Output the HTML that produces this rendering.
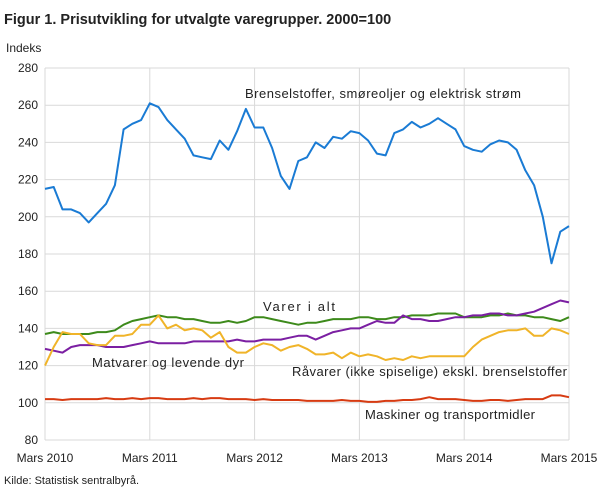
<!DOCTYPE html><html><head><meta charset="utf-8"><style>
body{margin:0;background:#fff;width:609px;height:489px;overflow:hidden;font-family:"Liberation Sans",sans-serif}
</style></head><body>
<svg id="s" width="609" height="489" xmlns="http://www.w3.org/2000/svg" font-family="Liberation Sans, sans-serif">
<text x="4" y="24" font-size="14.5" font-weight="bold" fill="#222">Figur 1. Prisutvikling for utvalgte varegrupper. 2000=100</text>
<text x="6" y="52" font-size="12" fill="#222">Indeks</text>
<text x="4" y="484" font-size="11" fill="#222">Kilde: Statistisk sentralbyrå.</text>
<g id="g"></g>
</svg>
<script>
const g=document.getElementById('g');
const x0=45,x1=569,yv=v=>68+(280-v)*372/200;
let h='';
for(let v=80;v<=280;v+=20){const y=yv(v);h+=`<line x1="${x0}" x2="${x1}" y1="${y}" y2="${y}" stroke="#d9d9d9"/><text x="${x0-7}" y="${y+4}" font-size="12" text-anchor="end" fill="#222">${v}</text>`;}
const labs=['Mars 2010','Mars 2011','Mars 2012','Mars 2013','Mars 2014','Mars 2015'];
for(let i=0;i<6;i++){const x=x0+i*(x1-x0)/5;h+=`<line x1="${x}" x2="${x}" y1="68" y2="440" stroke="#d9d9d9"/><text x="${x}" y="462" font-size="12" text-anchor="middle" fill="#222">${labs[i]}</text>`;}
function line(d,c){const n=d.length;let p=d.map((v,i)=>`${(x0+i*(x1-x0)/(n-1)).toFixed(1)},${yv(v).toFixed(1)}`).join(' ');h+=`<polyline points="${p}" fill="none" stroke="${c}" stroke-width="2" stroke-linejoin="round"/>`;}
const blue=[215,216,204,204,202,197,202,207,217,247,250,252,261,259,252,247,242,233,232,231,241,236,246,258,248,248,237,222,215,230,232,240,237,243,242,246,245,241,234,233,245,247,251,248,250,253,250,247,238,236,235,239,241,240,236,225,217,200,175,192,195];
const green=[137,138,137,137,137,137,138,138,139,142,144,145,146,147,146,146,145,145,144,143,143,144,143,144,146,146,145,144,143,142,143,143,144,145,145,145,146,146,145,145,146,146,147,147,147,148,148,148,146,146,146,147,147,148,147,147,146,146,145,144,146];
const purple=[129,128,127,130,131,131,131,130,130,130,131,132,133,132,132,132,132,133,133,133,133,133,134,133,133,134,134,134,135,136,136,134,136,138,139,140,140,142,144,143,143,147,145,145,144,144,145,146,146,147,147,148,148,147,147,148,149,151,153,155,154];
const orange=[120,130,138,137,137,132,131,131,136,136,137,142,142,147,140,142,139,140,139,135,138,130,127,127,130,132,131,128,130,131,129,126,126,127,124,127,125,126,125,123,124,123,125,124,125,125,125,125,125,130,134,136,138,139,139,140,136,136,140,139,137];
const red=[102,102,101.5,102,102,102,102,102.5,102,102,102.5,102,102.5,102.5,102,102,102,102.5,102,102.5,102.5,102,102,102,101.5,102,101.5,101.5,101.5,101.5,101,101,101,101,101.5,101,101,100.5,100.5,101,101,101.5,101.5,102,103,102,102,102,101.5,101,101,101.5,101.5,101,101.5,102,102,102,104,104,103];
line(green,'#3d8a1b');line(purple,'#7b1fa2');line(orange,'#f0b429');line(red,'#d73b12');line(blue,'#1a7bd4');
const t=(x,y,s,w)=>h+=`<text x="${x}" y="${y}" font-size="13" fill="#222" textLength="${w}" lengthAdjust="spacing">${s}</text>`;
t(245,98,'Brenselstoffer,  smøreoljer  og elektrisk  strøm',276);
t(263,311,'Varer  i alt',72);
t(92,367,'Matvarer  og levende dyr',152);
t(292,376,'Råvarer  (ikke spiselige)  ekskl. brenselstoffer',275);
t(365,419,'Maskiner  og transportmidler',170);
g.innerHTML=h;
</script>
</body></html>
